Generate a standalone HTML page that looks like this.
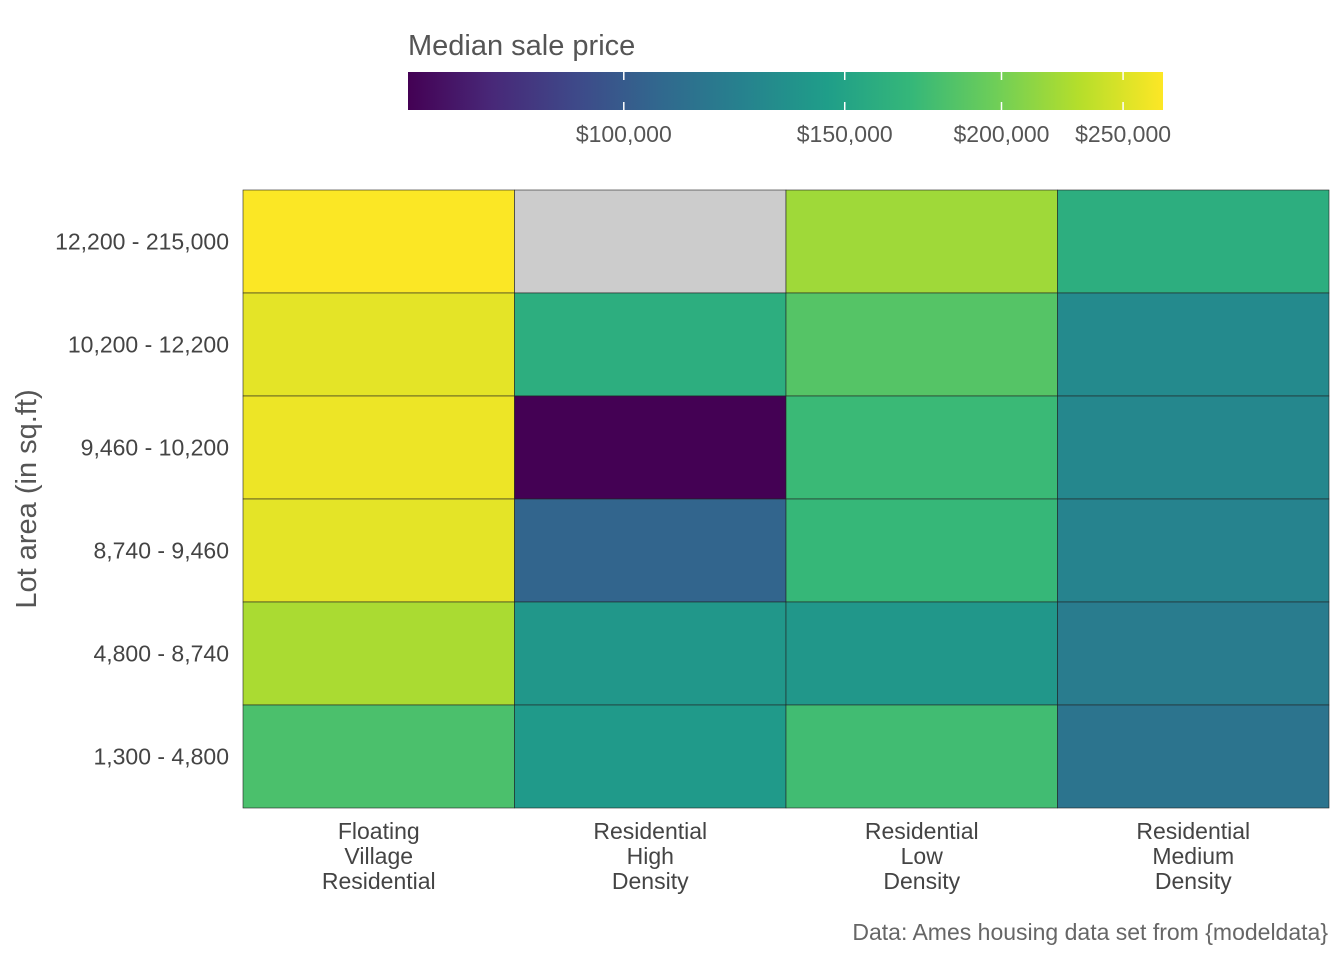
<!DOCTYPE html>
<html><head><meta charset="utf-8">
<style>
body{margin:0;background:#fff;font-family:"Liberation Sans",sans-serif;}
svg text{font-family:"Liberation Sans",sans-serif;}
</style></head>
<body>
<svg width="1344" height="960" id="chart">
<defs><linearGradient id="vir" x1="0" x2="1" y1="0" y2="0"></linearGradient></defs>
<text x="408" y="55" font-size="29" fill="#555">Median sale price</text>
<rect x="408" y="72" width="755" height="38" fill="url(#vir)"/>
<g id="legendTicks"></g>
<g id="cells"></g>
<g id="ylabels"></g>
<g id="xlabels"></g>
<text transform="translate(36,499) rotate(-90)" text-anchor="middle" font-size="29" fill="#555">Lot area (in sq.ft)</text>
<text x="1328" y="940" text-anchor="end" font-size="23" fill="#666">Data: Ames housing data set from {modeldata}</text>
</svg>
<script>
const zones=[["Floating","Village","Residential"],["Residential","High","Density"],["Residential","Low","Density"],["Residential","Medium","Density"]];
const lotBins=["12,200 - 215,000","10,200 - 12,200","9,460 - 10,200","8,740 - 9,460","4,800 - 8,740","1,300 - 4,800"];
const floatingVillage=[268000,255000,260000,255000,225000,180000];
const resHigh=[null,160000,67300,105000,140000,142000];
const resLow=[220000,185000,172000,170000,140000,175000];
const resMedium=[160000,130000,128000,125000,120000,115000];
const legendTicks=[100000,150000,200000,250000];
const legendLabels=["$100,000","$150,000","$200,000","$250,000"];
const vmin=67300,vmax=269000;
const series=[floatingVillage,resHigh,resLow,resMedium];
const vir=["#440154","#482878","#3e4989","#31688e","#26828e","#1f9e89","#35b779","#6ece58","#b5de2b","#fde725"];
const NS="http://www.w3.org/2000/svg";
function hex(h){return [1,3,5].map(i=>parseInt(h.substr(i,2),16));}
function t(v){return (Math.log(v)-Math.log(vmin))/(Math.log(vmax)-Math.log(vmin));}
function color(v){let x=Math.max(0,Math.min(1,t(v)))*(vir.length-1);let i=Math.min(Math.floor(x),vir.length-2),f=x-i;
 const a=hex(vir[i]),b=hex(vir[i+1]);return "rgb("+a.map((c,k)=>Math.round(c+(b[k]-c)*f)).join(",")+")";}
function mk(tag,attrs,parent){const e=document.createElementNS(NS,tag);for(const k in attrs)e.setAttribute(k,attrs[k]);parent.appendChild(e);return e;}
const grad=document.getElementById("vir");
vir.forEach((c,i)=>mk("stop",{offset:(i/(vir.length-1)),"stop-color":c},grad));
const bx0=408,bw=755;
function bx(v){return bx0+t(v)*bw;}
const lt=document.getElementById("legendTicks");
legendTicks.forEach((v,i)=>{const x=bx(v);
 const l1=mk("line",{x1:x,x2:x,y1:72,y2:80,stroke:"#fff","stroke-width":1.5},lt);
 
 
 const l2=mk("line",{x1:x,x2:x,y1:102,y2:110,stroke:"#fff","stroke-width":1.5},lt);
 
 
 const tx=mk("text",{x:x,y:142,"text-anchor":"middle","font-size":23,fill:"#555"},lt);tx.textContent=legendLabels[i];
 
 
});
const px0=243,px1=1329,py0=190,py1=808;
const cw=(px1-px0)/zones.length,ch=(py1-py0)/lotBins.length;
const cg=document.getElementById("cells");
series.forEach((s,ci)=>s.forEach((v,ri)=>{
 const r=mk("rect",{x:px0+ci*cw,y:py0+ri*ch,width:cw,height:ch,fill:v==null?"#cccccc":color(v),stroke:"#222","stroke-width":0.6},cg);
 
 
}));
const yl=document.getElementById("ylabels");
lotBins.forEach((b,ri)=>{const tx=mk("text",{x:229,y:py0+(ri+0.5)*ch+8,"text-anchor":"end","font-size":23,fill:"#444"},yl);tx.textContent=b;
 
 });
const xl=document.getElementById("xlabels");
zones.forEach((z,ci)=>z.forEach((w,k)=>{const tx=mk("text",{x:px0+(ci+0.5)*cw,y:839+k*25,"text-anchor":"middle","font-size":23,fill:"#444"},xl);tx.textContent=w;
 
 }));
</script>
</body></html>
